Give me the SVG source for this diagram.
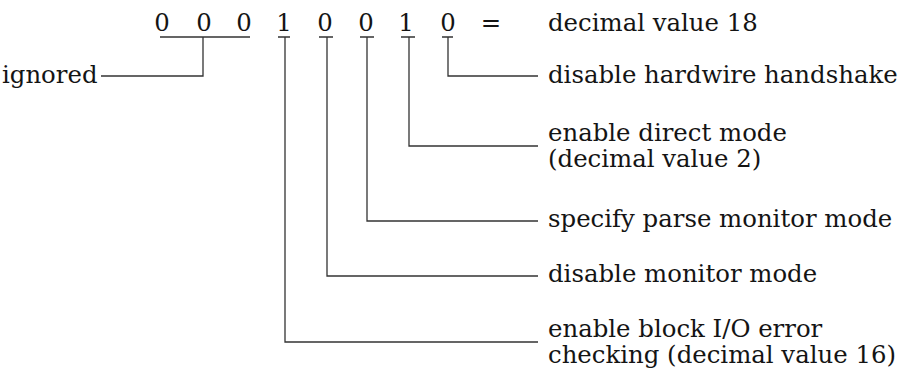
<svg xmlns="http://www.w3.org/2000/svg" width="902" height="375" viewBox="0 0 902 375">
<style>
text { font-family: "DejaVu Serif", "Liberation Serif", serif; font-size: 24.4px; fill: #141414; }
.c { text-anchor: middle; }
.ln { fill: none; stroke: #333; stroke-width: 1.3; }
</style>
<rect width="902" height="375" fill="#fff"/>
<g id="bits">
<text class="c" x="162" y="31">0</text>
<text class="c" x="204" y="31">0</text>
<text class="c" x="244" y="31">0</text>
<text class="c" x="284" y="31">1</text>
<text class="c" x="325" y="31">0</text>
<text class="c" x="366" y="31">0</text>
<text class="c" x="406" y="31">1</text>
<text class="c" x="448" y="31">0</text>
<text class="c" x="491" y="31">=</text>
</g>
<g id="total"><text x="548" y="31">decimal value 18</text></g>
<g id="ignored"><text x="2" y="83">ignored</text></g>
<g id="handshake"><text x="548" y="83">disable hardwire handshake</text></g>
<g id="direct"><text x="548" y="141">enable direct mode</text><text x="548" y="167">(decimal value 2)</text></g>
<g id="parse"><text x="548" y="227">specify parse monitor mode</text></g>
<g id="monitor"><text x="548" y="282">disable monitor mode</text></g>
<g id="blockio"><text x="548" y="337">enable block I/O error</text><text x="548" y="363">checking (decimal value 16)</text></g>
<g id="connectors" class="ln">
<path d="M160 37H250M203 37V76H101"/>
<path d="M278 37H290M285 37V342H538"/>
<path d="M319 37H333M327 37V276H538"/>
<path d="M360 37H374M367 37V221H538"/>
<path d="M401 37H415M409 37V146H538"/>
<path d="M442 37H453M448 37V76H538"/>
</g>
</svg>
